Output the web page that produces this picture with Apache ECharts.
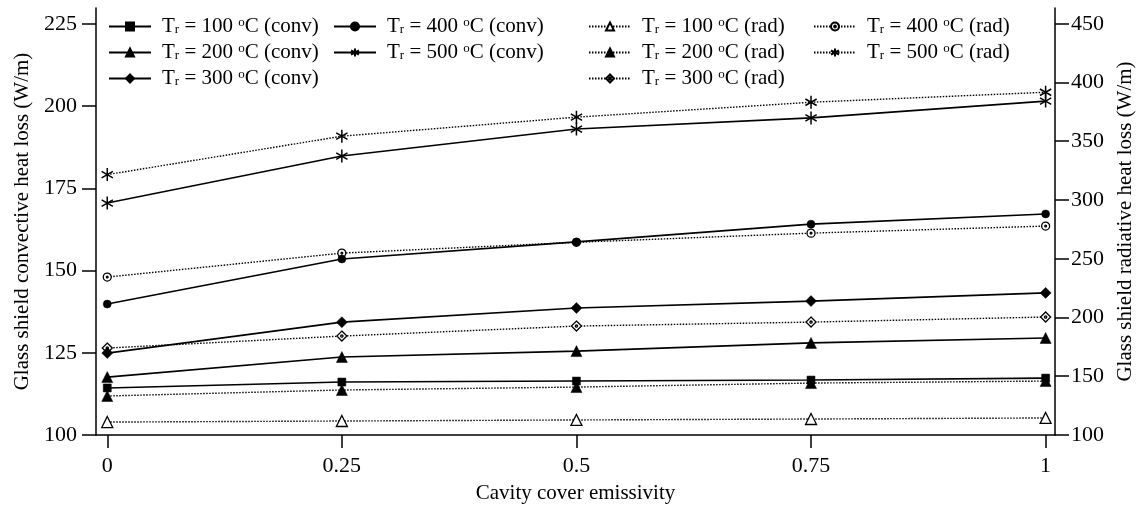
<!DOCTYPE html>
<html><head><meta charset="utf-8">
<script src="https://cdn.jsdelivr.net/npm/echarts@6/dist/echarts.min.js"></script>
<style>html,body{margin:0;padding:0;background:#fff}#c{width:1146px;height:512px}</style>
</head><body><div id="c"></div>
<script>
var emissivity = [0, 0.25, 0.5, 0.75, 1];
var xTickLabels = ['0', '0.25', '0.5', '0.75', '1'];
var leftTicks = [100, 125, 150, 175, 200, 225];
var rightTicks = [100, 150, 200, 250, 300, 350, 400, 450];

var conv100 = [114.3, 116.1, 116.4, 116.7, 117.3];
var conv200 = [117.6, 123.7, 125.5, 128.0, 129.5];
var conv300 = [124.9, 134.3, 138.6, 140.7, 143.2];
var conv400 = [139.8, 153.5, 158.7, 164.1, 167.2];
var conv500 = [170.5, 184.8, 193.0, 196.4, 201.5];
var rad100 = [111.0, 111.9, 112.8, 113.6, 114.5];
var rad200 = [133.2, 138.3, 140.8, 144.2, 145.9];
var rad300 = [174.0, 184.2, 192.7, 196.1, 200.4];
var rad400 = [234.4, 254.8, 264.0, 271.8, 277.8];
var rad500 = [321.6, 354.3, 370.5, 383.2, 391.7];

var temps = ['100', '200', '300', '400', '500'];
var convData = [conv100, conv200, conv300, conv400, conv500];
var radData = [rad100, rad200, rad300, rad400, rad500];

var STAR = 'path://M5,0L5,10M0.67,2.5L9.33,7.5M0.67,7.5L9.33,2.5';
var ODOT_CIRCLE = 'path://M5,0A5,5 0 1,1 4.99,0Z M5,3.9A1.1,1.1 0 1,1 4.99,3.9Z';
var ODOT_DIAMOND = 'path://M5,0L10,5L5,10L0,5Z M5,3.9A1.1,1.1 0 1,1 4.99,3.9Z';

var convSym = [['rect', 8, true], ['triangle', 11, true], ['diamond', 11, true], ['circle', 8, true], [STAR, 13, 'star']];
var radSym = [['triangle', 11, false], ['triangle', 11, true], [ODOT_DIAMOND, 10, false], [ODOT_CIRCLE, 8, false], [STAR, 13, 'star']];

function pair(x, ys) { return x.map(function (v, i) { return [v, ys[i]]; }); }

function mk(kind, idx) {
  var isConv = kind === 'conv';
  var s = isConv ? convSym[idx] : radSym[idx];
  var item;
  if (s[2] === 'star') item = { color: '#000', borderColor: '#000', borderWidth: 1.5 };
  else if (s[2]) item = { color: '#000', borderColor: '#000', borderWidth: 0.5 };
  else item = { color: '#fff', borderColor: '#000', borderWidth: 1.3 };
  return {
    name: 'T_r = ' + temps[idx] + ' oC (' + kind + ')',
    type: 'line',
    yAxisIndex: isConv ? 0 : 1,
    data: pair(emissivity, isConv ? convData[idx] : radData[idx]),
    symbol: s[0], symbolSize: s[1], showAllSymbol: true,
    symbolKeepAspect: true,
    lineStyle: { color: '#000', width: isConv ? 1.6 : 1.4, type: isConv ? 'solid' : [1.5, 1.5] },
    itemStyle: item,
    emphasis: { disabled: true },
    animation: false, z: isConv ? 3 : 2
  };
}

var series = [];
for (var i = 0; i < 5; i++) series.push(mk('conv', i));
for (var j = 0; j < 5; j++) series.push(mk('rad', j));

var FONT = 'Liberation Serif';
function legendFmt(name) {
  var m = name.match(/T_r = (\d+) oC \((\w+)\)/);
  return 'T{sub|r} = ' + m[1] + ' {sup|o}C (' + m[2] + ')';
}
var rich = {
  sub: { fontFamily: FONT, fontSize: 13, color: '#000', verticalAlign: 'bottom', padding: [10, 0, 0, 0] },
  sup: { fontFamily: FONT, fontSize: 13, color: '#000', verticalAlign: 'top', padding: [0, 0, 8, 0] }
};
function mkLegend(names, left) {
  return {
    data: names, left: left, top: 11, orient: 'vertical', itemGap: 5,
    itemWidth: 42, itemHeight: 10, selectedMode: false,
    formatter: legendFmt,
    textStyle: { fontFamily: FONT, fontSize: 21, lineHeight: 20, color: '#000', padding: [0, 0, 0, 6], rich: rich }
  };
}
var nm = series.map(function (s) { return s.name; });

var axisText = { fontFamily: FONT, fontSize: 21, color: '#000' };
var option = {
  backgroundColor: '#fff',
  animation: false,
  grid: { left: 96, right: 91, top: 8, bottom: 77, containLabel: false },
  legend: [mkLegend(nm.slice(0, 3), 103), mkLegend(nm.slice(3, 5), 328), mkLegend(nm.slice(5, 8), 583), mkLegend(nm.slice(8, 10), 808)],
  xAxis: {
    type: 'value', min: -0.012, max: 1.01,
    name: 'Cavity cover emissivity', nameLocation: 'middle', nameGap: 48,
    nameTextStyle: axisText,
    axisLine: { show: true, onZero: false, lineStyle: { color: '#000', width: 1.5 } },
    axisTick: { show: true, inside: false, length: 13, customValues: emissivity, lineStyle: { color: '#000', width: 1.5 } },
    axisLabel: { margin: 20, customValues: emissivity, fontFamily: FONT, fontSize: 22, color: '#000',
      formatter: function (v) { var k = emissivity.indexOf(v); return k >= 0 ? xTickLabels[k] : ''; } },
    splitLine: { show: false }
  },
  yAxis: [{
    type: 'value', min: 100, max: 229.8, position: 'left',
    name: 'Glass shield convective heat loss (W/m)', nameLocation: 'middle', nameGap: 63, nameRotate: 90,
    nameTextStyle: axisText,
    axisLine: { show: true, onZero: false, lineStyle: { color: '#000', width: 1.5 } },
    axisTick: { show: true, length: 14, customValues: leftTicks, lineStyle: { color: '#000', width: 1.5 } },
    axisLabel: { margin: 19, customValues: leftTicks, fontFamily: FONT, fontSize: 22, color: '#000' },
    splitLine: { show: false }
  }, {
    type: 'value', min: 100, max: 463.4, position: 'right',
    name: 'Glass shield radiative heat loss (W/m)', nameLocation: 'middle', nameGap: 60, nameRotate: 90,
    nameTextStyle: axisText,
    axisLine: { show: true, onZero: false, lineStyle: { color: '#000', width: 1.5 } },
    axisTick: { show: true, length: 14, customValues: rightTicks, lineStyle: { color: '#000', width: 1.5 } },
    axisLabel: { margin: 16, customValues: rightTicks, fontFamily: FONT, fontSize: 22, color: '#000' },
    splitLine: { show: false }
  }],
  series: series
};
var chart = echarts.init(document.getElementById('c'), null, { renderer: 'canvas' });
chart.setOption(option);
</script></body></html>
